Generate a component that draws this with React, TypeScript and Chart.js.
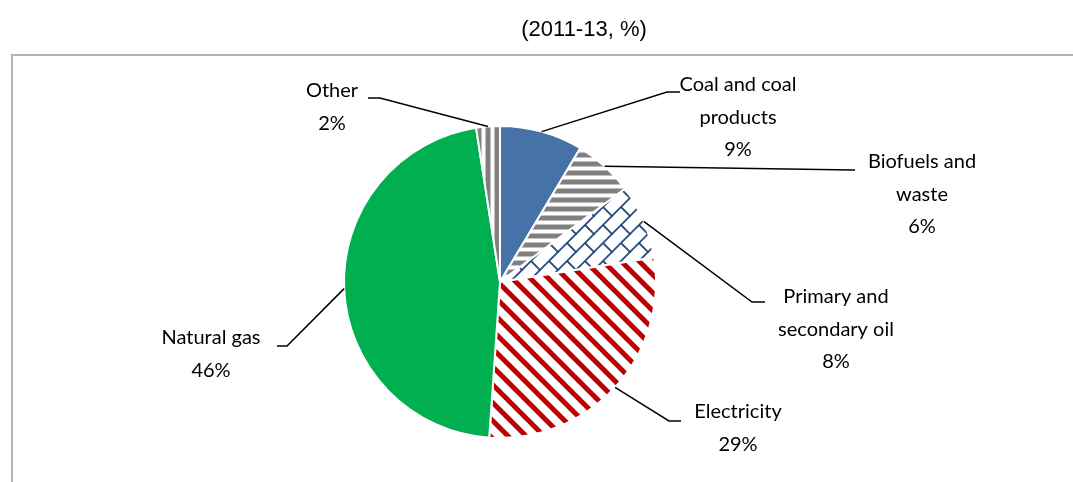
import React, { useEffect, useRef } from "react";
import { Chart, registerables } from "chart.js";
Chart.register(...registerables);

// ---- data ----
const categories = [
  "Coal and coal products",
  "Biofuels and waste",
  "Primary and secondary oil",
  "Electricity",
  "Natural gas",
  "Other",
];
const labelLines = [
  ["Coal and coal", "products"],
  ["Biofuels and", "waste"],
  ["Primary and", "secondary oil"],
  ["Electricity"],
  ["Natural gas"],
  ["Other"],
];
const shares = [8.6, 6.2, 7.7, 28.6, 46.45, 2.45];
const chartTitle = "(2011-13, %)";

// ---- layout of labels (elbow of leader, end of leader, text centre x, first line y) ----
const labelLayout = [
  { elbow: [667, 92], end: [680, 92], cx: 738, y0: 85 },
  { elbow: [853, 170], end: [855, 170], cx: 922, y0: 162 },
  { elbow: [752, 302], end: [765, 302], cx: 836, y0: 297 },
  { elbow: [669, 421], end: [681, 421], cx: 738, y0: 412 },
  { elbow: [287, 346], end: [277, 346], cx: 211, y0: 338 },
  { elbow: [380, 98], end: [368, 98], cx: 332, y0: 91 },
];
const LINE_GAP = 32.3;
const LABEL_FONT = '20px Lato, "Noto Sans", sans-serif';
const TITLE_FONT = '22px "Liberation Sans", Arial, sans-serif';

function tile(size: number, draw: (g: CanvasRenderingContext2D, s: number) => void) {
  const c = document.createElement("canvas");
  c.width = size;
  c.height = size;
  const g = c.getContext("2d")!;
  g.fillStyle = "#ffffff";
  g.fillRect(0, 0, size, size);
  draw(g, size);
  return c;
}

function makeFills(ctx: CanvasRenderingContext2D) {
  const horiz = tile(9, (g) => {
    g.fillStyle = "#808080";
    g.fillRect(0, 0, 9, 4);
    g.fillStyle = "#c0c0c0";
    g.fillRect(0, 4, 9, 1);
    g.fillRect(0, 8, 9, 1);
  });
  const vert = tile(9, (g) => {
    g.fillStyle = "#808080";
    g.fillRect(0, 0, 4, 9);
    g.fillStyle = "#c0c0c0";
    g.fillRect(4, 0, 1, 9);
    g.fillRect(8, 0, 1, 9);
  });
  const diag = tile(18, (g, s) => {
    g.strokeStyle = "#c00000";
    g.lineWidth = 5;
    for (const o of [-s, 0, s]) {
      g.beginPath();
      g.moveTo(o - 2, -2);
      g.lineTo(o + s + 2, s + 2);
      g.stroke();
    }
  });
  const brick = tile(18, (g, s) => {
    const k = s / 8;
    g.strokeStyle = "#2a4c7c";
    g.lineWidth = 1.8;
    g.lineCap = "round";
    for (const dx of [-8, 0, 8]) {
      for (const dy of [-8, 0, 8]) {
        g.beginPath();
        g.moveTo((8 + dx) * k, (0 + dy) * k);
        g.lineTo((0 + dx) * k, (8 + dy) * k);
        g.moveTo((4 + dx) * k, (4 + dy) * k);
        g.lineTo((8 + dx) * k, (8 + dy) * k);
        g.stroke();
      }
    }
  });
  return [
    "#4672a8",
    ctx.createPattern(horiz, "repeat")!,
    ctx.createPattern(brick, "repeat")!,
    ctx.createPattern(diag, "repeat")!,
    "#00b050",
    ctx.createPattern(vert, "repeat")!,
  ];
}

const decorPlugin = {
  id: "decor",
  beforeDraw(chart: any) {
    const ctx = chart.ctx as CanvasRenderingContext2D;
    ctx.save();
    ctx.fillStyle = "#ffffff";
    ctx.fillRect(0, 0, chart.width, chart.height);
    ctx.strokeStyle = "#b4b4b4";
    ctx.lineWidth = 2;
    ctx.beginPath();
    ctx.moveTo(12, chart.height + 5);
    ctx.lineTo(12, 55);
    ctx.lineTo(chart.width + 5, 55);
    ctx.stroke();
    ctx.fillStyle = "#000000";
    ctx.font = TITLE_FONT;
    ctx.textAlign = "center";
    ctx.textBaseline = "middle";
    ctx.fillText(chartTitle, 584, 30);
    ctx.restore();
  },
  afterDatasetsDraw(chart: any) {
    const ctx = chart.ctx as CanvasRenderingContext2D;
    const meta = chart.getDatasetMeta(0);
    const values = chart.data.datasets[0].data as number[];
    const total = values.reduce((a, b) => a + b, 0);
    ctx.save();
    meta.data.forEach((arc: any, i: number) => {
      const { x, y, startAngle, endAngle, outerRadius } = arc.getProps(
        ["x", "y", "startAngle", "endAngle", "outerRadius"],
        true
      );
      const mid = (startAngle + endAngle) / 2;
      const sx = x + Math.cos(mid) * outerRadius;
      const sy = y + Math.sin(mid) * outerRadius;
      const L = labelLayout[i];
      ctx.strokeStyle = "#000000";
      ctx.lineWidth = 1.5;
      ctx.beginPath();
      ctx.moveTo(sx, sy);
      ctx.lineTo(L.elbow[0], L.elbow[1]);
      ctx.lineTo(L.end[0], L.end[1]);
      ctx.stroke();
      const lines = [...labelLines[i], `${Math.round((values[i] / total) * 100)}%`];
      ctx.fillStyle = "#000000";
      ctx.font = LABEL_FONT;
      ctx.textAlign = "center";
      ctx.textBaseline = "middle";
      lines.forEach((t, j) => ctx.fillText(t, L.cx, L.y0 + j * LINE_GAP));
    });
    ctx.restore();
  },
};

export default function App() {
  const ref = useRef<HTMLCanvasElement>(null);
  useEffect(() => {
    document.body.style.margin = "0";
    const canvas = ref.current!;
    const ctx = canvas.getContext("2d")!;
    const fills = makeFills(ctx);
    const chart = new Chart(canvas, {
      type: "pie",
      data: {
        labels: categories,
        datasets: [
          {
            data: shares,
            backgroundColor: fills as any,
            borderColor: "#ffffff",
            borderWidth: 2,
          },
        ],
      },
      options: {
        responsive: false,
        animation: false,
        events: [],
        layout: { padding: { left: 343, right: 416, top: 125, bottom: 43 } },
        plugins: {
          legend: { display: false },
          tooltip: { enabled: false },
          title: { display: false },
        },
      },
      plugins: [decorPlugin],
    });
    return () => chart.destroy();
  }, []);
  return (
    <div style={{ position: "absolute", left: 0, top: 0, width: 1073, height: 482, background: "#fff" }}>
      <canvas ref={ref} width={1073} height={482} style={{ display: "block", width: 1073, height: 482 }} />
    </div>
  );
}
